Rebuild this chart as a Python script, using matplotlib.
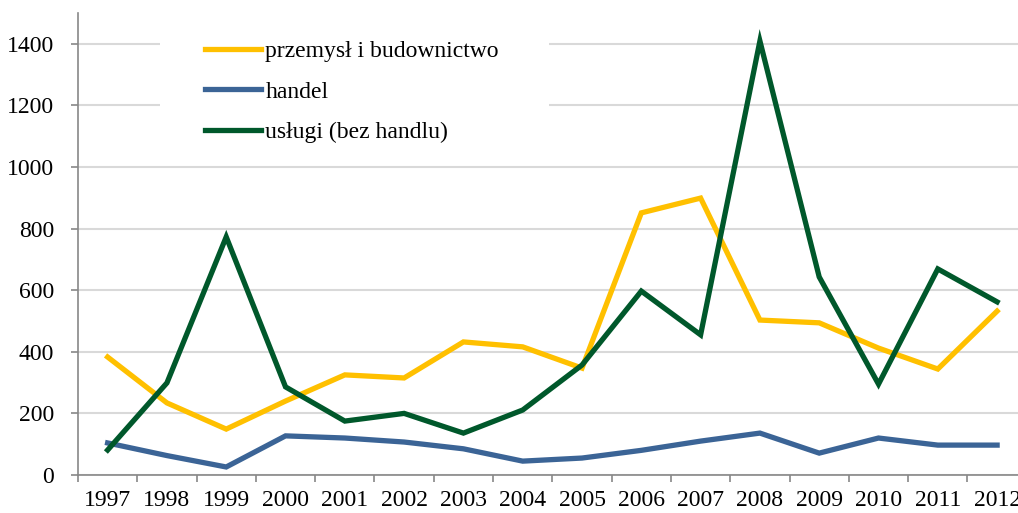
import matplotlib.pyplot as plt
from matplotlib.patches import Rectangle

plt.rcParams['font.family'] = ['Liberation Serif', 'DejaVu Serif']

lata = ['1997', '1998', '1999', '2000', '2001', '2002', '2003', '2004',
        '2005', '2006', '2007', '2008', '2009', '2010', '2011', '2012']
przemysl = [383, 234, 149, 240, 325, 315, 432, 416, 347, 851, 899, 503, 494, 412, 344, 532]
handel = [104, 63, 26, 127, 120, 107, 85, 45, 55, 80, 110, 136, 71, 120, 97, 97]
uslugi = [81, 299, 773, 286, 175, 200, 136, 211, 357, 597, 455, 1409, 643, 295, 669, 562]

fig = plt.figure(figsize=(10.18, 5.13), dpi=100)
# plot area runs a little past the right edge, like the source chart
ax = fig.add_axes([0.0766, 0.0741, 0.932, 0.9006])

x = list(range(len(lata)))
ax.plot(x, przemysl, color='#FFC000', lw=3.8, solid_joinstyle='miter', label='przemysł i budownictwo', zorder=3)
ax.plot(x, handel, color='#3B6496', lw=3.8, solid_joinstyle='miter', label='handel', zorder=3)
ax.plot(x, uslugi, color='#00582B', lw=3.8, solid_joinstyle='miter', label='usługi (bez handlu)', zorder=3)

ax.set_xlim(-0.5, len(lata) - 0.5)
ax.set_ylim(0, 1500)
ax.set_yticks(range(0, 1401, 200))
ax.set_xticks(x)
ax.set_xticklabels(lata)
ax.set_xticks([i - 0.5 for i in range(len(lata) + 1)], minor=True)

ax.grid(axis='y', color='#D9D9D9', lw=1.5, zorder=0)
ax.set_axisbelow(True)
for s in ['top', 'right']:
    ax.spines[s].set_visible(False)
for s in ['left', 'bottom']:
    ax.spines[s].set_color('#888888')
    ax.spines[s].set_linewidth(1.2)

ax.tick_params(axis='x', which='major', length=0, labelsize=17, pad=11)
ax.tick_params(axis='x', which='minor', length=5, width=1.2, color='#888888')
ax.tick_params(axis='y', length=5, width=1.2, color='#888888', labelsize=17, pad=12)

# white box behind the legend cuts the upper gridlines
ax.add_patch(Rectangle((0.0864, 1100), 0.41, 450, transform=ax.get_yaxis_transform(),
                       facecolor='white', edgecolor='none', zorder=1))

ax.legend(loc='upper left', bbox_to_anchor=(0.134, 0.94), frameon=False, fontsize=17,
          handlelength=2.35, handletextpad=0.2, labelspacing=0.8, borderpad=0, borderaxespad=0)

plt.savefig('out.png', dpi=100)
